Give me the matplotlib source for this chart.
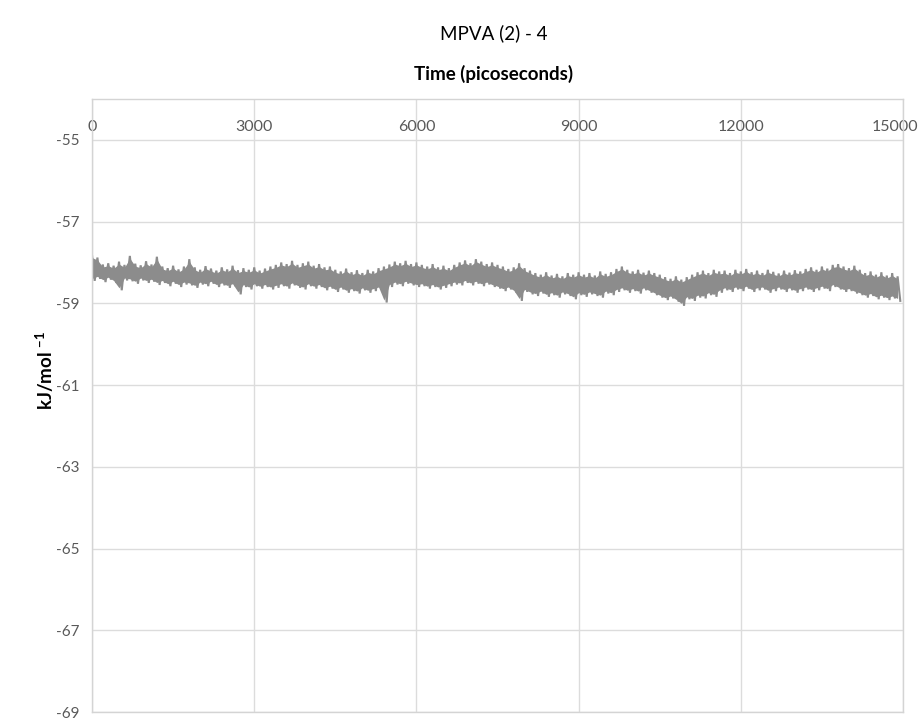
import matplotlib
matplotlib.use("Agg")
import matplotlib.pyplot as plt
import matplotlib.transforms as mtransforms
import numpy as np

plt.rcParams['font.family'] = ['Lato', 'DejaVu Sans']
plt.rcParams['mathtext.fontset'] = 'custom'
plt.rcParams['mathtext.rm'] = 'Lato'
plt.rcParams['mathtext.bf'] = 'Lato:bold'

title = "MPVA (2) - 4"
x_title = "Time (picoseconds)"
y_title = r"kJ/mol $\mathbf{^{-1}}$"

x_ticks = [0, 3000, 6000, 9000, 12000, 15000]
y_ticks = [-55, -57, -59, -61, -63, -65, -67, -69]

# upper extent of the trace, sampled at t = 0, 100, ..., 14900 ps
upper = [
    -57.82, -57.88, -58.05, -58.02, -58.08, -57.98, -58.06, -57.84, -58.03, -58.07,
    -57.97, -58.05, -57.86, -58.10, -58.14, -58.08, -58.17, -58.10, -57.92, -58.12,
    -58.18, -58.09, -58.15, -58.20, -58.12, -58.17, -58.08, -58.19, -58.14, -58.18,
    -58.12, -58.20, -58.15, -58.10, -58.06, -58.00, -58.04, -57.96, -58.06, -58.02,
    -57.98, -58.08, -58.04, -58.12, -58.10, -58.18, -58.22, -58.15, -58.24, -58.19,
    -58.26, -58.18, -58.22, -58.14, -58.10, -58.05, -57.98, -58.02, -57.96, -58.04,
    -58.00, -58.06, -58.10, -58.04, -58.12, -58.08, -58.14, -58.06, -58.00, -57.95,
    -58.02, -57.92, -57.98, -58.04, -58.00, -58.06, -58.10, -58.16, -58.12, -58.02,
    -58.14, -58.20, -58.26, -58.30, -58.24, -58.32, -58.28, -58.34, -58.26, -58.30,
    -58.24, -58.30, -58.26, -58.32, -58.22, -58.28, -58.24, -58.16, -58.10, -58.18,
    -58.22, -58.18, -58.25, -58.20, -58.26, -58.30, -58.36, -58.40, -58.34, -58.42,
    -58.36, -58.30, -58.24, -58.20, -58.26, -58.18, -58.22, -58.20, -58.26, -58.18,
    -58.22, -58.16, -58.24, -58.20, -58.26, -58.18, -58.23, -58.27, -58.20, -58.25,
    -58.19, -58.22, -58.16, -58.12, -58.18, -58.10, -58.15, -58.06, -58.04, -58.10,
    -58.14, -58.08, -58.18, -58.26, -58.22, -58.30, -58.24, -58.32, -58.26, -58.34,
]

# lower extent of the trace, sampled at t = 50, 150, ..., 14950 ps
lower = [
    -58.45, -58.40, -58.48, -58.42, -58.50, -58.68, -58.44, -58.46, -58.52, -58.44,
    -58.50, -58.47, -58.55, -58.50, -58.58, -58.52, -58.60, -58.54, -58.56, -58.62,
    -58.54, -58.58, -58.52, -58.60, -58.56, -58.62, -58.58, -58.78, -58.60, -58.66,
    -58.58, -58.64, -58.60, -58.66, -58.62, -58.58, -58.64, -58.56, -58.62, -58.66,
    -58.58, -58.64, -58.60, -58.68, -58.64, -58.72, -58.66, -58.74, -58.70, -58.76,
    -58.68, -58.74, -58.70, -58.66, -58.98, -58.60, -58.54, -58.58, -58.52, -58.56,
    -58.60, -58.58, -58.64, -58.60, -58.66, -58.62, -58.58, -58.54, -58.56, -58.50,
    -58.56, -58.52, -58.58, -58.54, -58.60, -58.64, -58.70, -58.66, -58.74, -58.94,
    -58.72, -58.78, -58.82, -58.76, -58.84, -58.80, -58.86, -58.78, -58.82, -58.90,
    -58.80, -58.84, -58.78, -58.82, -58.86, -58.76, -58.80, -58.72, -58.68, -58.74,
    -58.70, -58.76, -58.68, -58.74, -58.80, -58.86, -58.92, -58.88, -58.96, -59.06,
    -58.90, -58.94, -58.86, -58.88, -58.80, -58.84, -58.74, -58.68, -58.72, -58.66,
    -58.70, -58.64, -58.72, -58.68, -58.66, -58.74, -58.70, -58.66, -58.72, -58.68,
    -58.74, -58.70, -58.66, -58.72, -58.68, -58.64, -58.70, -58.60, -58.66, -58.72,
    -58.70, -58.76, -58.80, -58.86, -58.82, -58.90, -58.86, -58.92, -58.88, -58.94,
]

n = min(len(upper), len(lower))
t_up = [i * 100 for i in range(n)]
t_lo = [i * 100 + 50 for i in range(n)]
t_vals = []
e_vals = []
for i in range(n):
    t_vals.append(t_up[i])
    e_vals.append(upper[i])
    t_vals.append(t_lo[i])
    e_vals.append(lower[i])

W, H = 918, 722
fig = plt.figure(figsize=(W / 100, H / 100), dpi=100)
fig.patch.set_facecolor('white')
ax = fig.add_axes([92 / W, 1 - 712 / H, (903 - 92) / W, (712 - 99) / H])

line_color = '#8c8c8c'
# dense core of the trace
ax.fill_between(t_up, [u - 0.06 for u in upper], [l + 0.06 for l in lower],
                color=line_color, lw=0)
ax.plot(t_vals, e_vals, color=line_color, lw=1.5, solid_joinstyle='miter')

ax.set_xlim(0, 15000)
ax.set_ylim(-69, -54)
ax.set_xticks(x_ticks)
ax.set_xticklabels([str(v) for v in x_ticks])
ax.set_yticks(y_ticks)
ax.set_yticklabels([str(v) for v in y_ticks])

ax.grid(True, color='#dcdcdc', lw=1.0)
ax.set_axisbelow(True)
for s in ax.spines.values():
    s.set_color('#d4d4d4')
    s.set_linewidth(1.0)

ax.tick_params(axis='x', top=True, labeltop=True, bottom=False, labelbottom=False,
               length=0, pad=-25, labelsize=11.5, labelcolor='#595959')
ax.tick_params(axis='y', length=0, pad=9, labelsize=11, labelcolor='#595959')

# last x label shifted left so it stays inside the figure
fig.canvas.draw()
for lab in ax.xaxis.get_ticklabels(which='major'):
    if lab.get_text() == str(x_ticks[-1]):
        lab.set_transform(lab.get_transform() +
                          mtransforms.ScaledTranslation(-8 / 100, 0, fig.dpi_scale_trans))

fig.text(494 / W, 1 - 33 / H, title, ha='center', va='center', fontsize=13.5, color='#000000')
fig.text(494 / W, 1 - 74 / H, x_title, ha='center', va='center', fontsize=13.5,
         fontweight='bold', color='#000000')
fig.text(45 / W, 1 - 370 / H, y_title, ha='center', va='center', rotation=90,
         fontsize=13.5, fontweight='bold', color='#000000')

fig.savefig('out.png', dpi=100, facecolor='white')
